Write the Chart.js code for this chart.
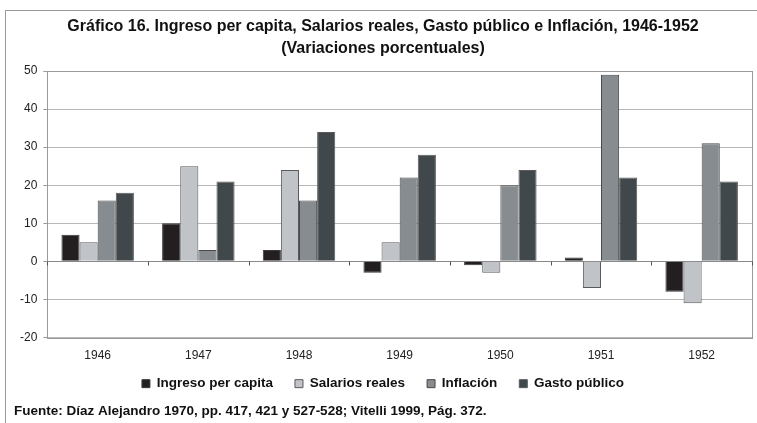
<!DOCTYPE html>
<html>
<head>
<meta charset="utf-8">
<script src="https://cdn.jsdelivr.net/npm/chart.js@4.4.1/dist/chart.umd.min.js"></script>
<style>
  html, body { margin: 0; padding: 0; background: #fff; }
  #wrap { position: absolute; left: 0; top: 0; width: 757px; height: 423px; }
  #frame { position: absolute; left: 5px; top: 10px; width: 760px; height: 420px;
           border-left: 1px solid #9a9a9a; border-top: 1px solid #9a9a9a; }
</style>
</head>
<body>
<div id="wrap">
  <div id="frame"></div>
  <canvas id="chart" width="757" height="423"></canvas>
</div>
<script>
const years = ['1946', '1947', '1948', '1949', '1950', '1951', '1952'];
const ingreso = [7, 10, 3, -3, -1, 1, -8];
const salarios = [5, 25, 24, 5, -3, -7, -11];
const inflacion = [16, 3, 16, 22, 20, 49, 31];
const gasto = [18, 21, 34, 28, 24, 22, 21];
const yTicks = [-20, -10, 0, 10, 20, 30, 40, 50];

const font = '"Liberation Sans", Arial, sans-serif';
const legendLift = 19; // pull the legend up closer to the axis labels

// plot area frame + little category ticks on the zero line
const framePlugin = {
  id: 'framePlugin',
  afterInit(chart) {
    const lg = chart.legend;
    const fit = lg.fit.bind(lg);
    lg.fit = function () { fit(); this.height -= legendLift; };
  },
  afterLayout(chart) {
    // legend box reaches up into the axis label band, keeps its bottom
    chart.legend.top -= legendLift;
    chart.legend.height += legendLift;
  },
  afterDraw(chart) {
    const { ctx, chartArea: a, scales: { x, y } } = chart;
    ctx.save();
    ctx.strokeStyle = '#9a9a9a';
    ctx.lineWidth = 1;
    ctx.strokeRect(Math.round(a.left) + 0.5, Math.round(a.top) + 0.5,
                   Math.round(a.right - a.left), Math.round(a.bottom - a.top));
    const y0 = Math.round(y.getPixelForValue(0)) + 0.5;
    const step = x.getPixelForValue(1) - x.getPixelForValue(0);
    ctx.strokeStyle = '#555';
    ctx.beginPath();
    for (let i = 0; i <= years.length; i++) {
      const px = Math.round(x.getPixelForValue(0) - step / 2 + i * step) + 0.5;
      ctx.moveTo(px, y0);
      ctx.lineTo(px, y0 + 4);
    }
    ctx.stroke();
    ctx.restore();
  }
};

new Chart(document.getElementById('chart'), {
  type: 'bar',
  data: {
    labels: years,
    datasets: [
      { label: 'Ingreso per capita', data: ingreso, backgroundColor: '#231f20', borderColor: '#3a3a3a', borderWidth: 1 },
      { label: 'Salarios reales', data: salarios, backgroundColor: '#c0c3c8', borderColor: '#5a5a5a', borderWidth: 1 },
      { label: 'Inflación', data: inflacion, backgroundColor: '#878c91', borderColor: '#4a4a4a', borderWidth: 1 },
      { label: 'Gasto público', data: gasto, backgroundColor: '#41484b', borderColor: '#5a5a5a', borderWidth: 1 }
    ]
  },
  options: {
    responsive: false,
    animation: false,
    layout: { padding: { left: 14, right: 5, top: 16, bottom: 4 } },
    datasets: { bar: { barPercentage: 1, categoryPercentage: 0.72 } },
    plugins: {
      title: {
        display: true,
        text: ['Gráfico 16. Ingreso per capita, Salarios reales, Gasto público e Inflación, 1946-1952',
               '(Variaciones porcentuales)'],
        color: '#111',
        font: { family: font, size: 16, weight: 'bold', lineHeight: 1.375 },
        padding: { top: 0, bottom: 11 }
      },
      subtitle: {
        display: true,
        position: 'bottom',
        align: 'start',
        text: 'Fuente: Díaz Alejandro 1970, pp. 417, 421 y 527-528; Vitelli 1999, Pág. 372.',
        color: '#111',
        font: { family: font, size: 13.5, weight: 'bold' },
        padding: { top: 2.4, bottom: 0 }
      },
      legend: {
        position: 'bottom',
        labels: {
          color: '#111',
          font: { family: font, size: 13.5, weight: 'bold' },
          boxWidth: 8,
          boxHeight: 8,
          padding: 22
        }
      },
      tooltip: { enabled: false }
    },
    scales: {
      x: {
        grid: { display: false, drawTicks: false },
        border: { display: false },
        ticks: { color: '#222', font: { family: font, size: 12 }, padding: 11, maxRotation: 0 }
      },
      y: {
        min: -20,
        max: 50,
        afterBuildTicks: (axis) => { axis.ticks = yTicks.map(v => ({ value: v })); },
        grid: {
          color: (c) => c.tick && c.tick.value === 0 ? '#8a8a8a' : '#b8b8b8',
          tickLength: 4,
          tickColor: '#9a9a9a'
        },
        border: { display: true, color: '#9a9a9a' },
        ticks: { color: '#222', font: { family: font, size: 12 }, padding: 6 }
      }
    }
  },
  plugins: [framePlugin]
});
</script>
</body>
</html>
